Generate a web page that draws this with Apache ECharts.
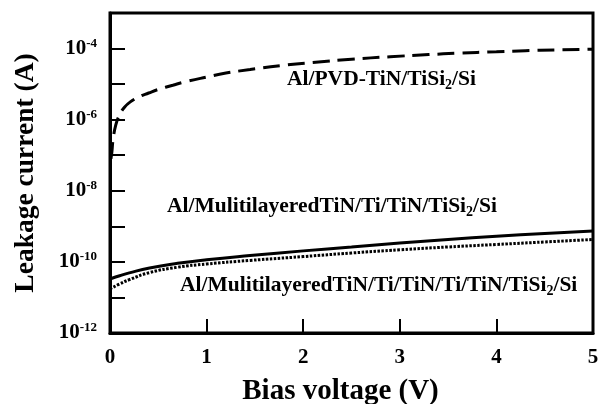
<!DOCTYPE html>
<html>
<head>
<meta charset="utf-8">
<script src="https://cdn.jsdelivr.net/npm/echarts@6/dist/echarts.min.js"></script>
<style>
    html, body { margin: 0; padding: 0; background: #fff; }
    #chartDiv { width: 600px; height: 404px; }
</style>
</head>
<body>
<div id="chartDiv"></div>
<script>
// 数据
var xTicks = [0, 1, 2, 3, 4, 5];

var pvdV = [0.01, 0.02, 0.03, 0.06, 0.1, 0.15, 0.21, 0.3, 0.4, 0.5, 0.65, 0.8, 1.0, 1.2, 1.45, 1.8, 2.1, 2.5, 2.9, 3.3, 3.6, 4.0, 4.3, 4.6, 5.0];
var pvdI = [7.9e-8, 1.26e-7, 2.5e-7, 7.1e-7, 1.38e-6, 2.24e-6, 3.16e-6, 4.37e-6, 5.62e-6, 7.08e-6, 9.33e-6, 1.2e-5, 1.58e-5, 2.04e-5, 2.57e-5, 3.39e-5, 4.07e-5, 5.01e-5, 5.89e-5, 6.76e-5, 7.41e-5, 8.13e-5, 8.71e-5, 9.12e-5, 9.55e-5];

var multiV = [0, 0.1, 0.2, 0.41, 0.7, 1.0, 1.45, 2.0, 2.5, 3.0, 3.5, 4.0, 4.5, 5.0];
var multiI = [3.31e-11, 4.07e-11, 4.9e-11, 6.76e-11, 9.12e-11, 1.15e-10, 1.51e-10, 2.04e-10, 2.63e-10, 3.39e-10, 4.27e-10, 5.25e-10, 6.31e-10, 7.41e-10];

var multi2V = [0, 0.1, 0.2, 0.41, 0.7, 1.0, 1.45, 2.0, 2.5, 3.0, 3.5, 4.0, 4.5, 5.0];
var multi2I = [1.74e-11, 2.4e-11, 3.16e-11, 5.01e-11, 7.08e-11, 8.71e-11, 1.1e-10, 1.41e-10, 1.78e-10, 2.19e-10, 2.63e-10, 3.09e-10, 3.63e-10, 4.27e-10];

var serif = 'Liberation Serif';

function pairs(xs, ys) {
    var out = [];
    for (var i = 0; i < xs.length; i++) {
        out.push([xs[i], ys[i]]);
    }
    return out;
}

var chart = echarts.init(document.getElementById('chartDiv'));

// 标注文字（带下标2）
var subRich = {
    n: {fontFamily: serif, fontWeight: 'bold', fontSize: 21.5, color: '#000'},
    sub: {fontFamily: serif, fontWeight: 'bold', fontSize: 14, color: '#000', padding: [12, 0, 0, 0]}
};

var option = {
    animation: false,
    backgroundColor: '#fff',
    grid: {
        left: 110, right: 7, top: 13, bottom: 71,
        outerBoundsMode: 'none',
        containLabel: false,
        show: true, borderColor: '#000', borderWidth: 3
    },
    xAxis: {
        type: 'value',
        min: xTicks[0], max: xTicks[xTicks.length - 1], interval: 1,
        name: 'Bias voltage (V)',
        nameLocation: 'middle',
        nameGap: 44,
        nameTextStyle: {fontFamily: serif, fontWeight: 'bold', fontSize: 29, color: '#000', padding: [0, 22, 0, 0]},
        axisLine: {show: true, lineStyle: {color: '#000', width: 3}},
        axisTick: {inside: true, length: 14, lineStyle: {color: '#000', width: 2}},
        axisLabel: {fontFamily: serif, fontWeight: 'bold', fontSize: 21, color: '#000', margin: 14},
        splitLine: {show: false}
    },
    yAxis: {
        type: 'log',
        logBase: 10,
        min: 1e-12, max: 1e-3,
        interval: 1,
        name: 'Leakage current (A)',
        nameLocation: 'middle',
        nameGap: 70,
        nameTextStyle: {fontFamily: serif, fontWeight: 'bold', fontSize: 27.5, color: '#000'},
        axisLine: {show: true, lineStyle: {color: '#000', width: 3}},
        axisTick: {inside: true, length: 15, lineStyle: {color: '#000', width: 2}},
        axisLabel: {
            margin: 13,
            formatter: function (v) {
                var e = Math.round(Math.log10(v));
                if (e % 2 !== 0) return '';
                return '{b|10}{s|' + e + '}';
            },
            rich: {
                b: {fontFamily: serif, fontWeight: 'bold', fontSize: 21, color: '#000', lineHeight: 22},
                s: {fontFamily: serif, fontWeight: 'bold', fontSize: 13, color: '#000', padding: [0, 0, 10, 0]}
            }
        },
        splitLine: {show: false}
    },
    series: [
        {
            name: 'Al/PVD-TiN/TiSi2/Si',
            type: 'line',
            data: pairs(pvdV, pvdI),
            smooth: true,
            showSymbol: false,
            lineStyle: {color: '#000', width: 3, type: [17, 8]}
        },
        {
            name: 'Al/MulitilayeredTiN/Ti/TiN/TiSi2/Si',
            type: 'line',
            data: pairs(multiV, multiI),
            smooth: true,
            showSymbol: false,
            lineStyle: {color: '#000', width: 3}
        },
        {
            name: 'Al/MulitilayeredTiN/Ti/TiN/Ti/TiN/TiSi2/Si',
            type: 'line',
            data: pairs(multi2V, multi2I),
            smooth: true,
            showSymbol: false,
            lineStyle: {color: '#000', width: 3, type: [2.5, 1.5]}
        }
    ],
    graphic: [
        {
            type: 'text', left: 287, top: 68,
            style: {text: '{n|Al/PVD-TiN/TiSi}{sub|2}{n|/Si}', rich: subRich}
        },
        {
            type: 'text', left: 167, top: 195,
            style: {text: '{n|Al/MulitilayeredTiN/Ti/TiN/TiSi}{sub|2}{n|/Si}', rich: subRich}
        },
        {
            type: 'text', left: 180, top: 274,
            style: {text: '{n|Al/MulitilayeredTiN/Ti/TiN/Ti/TiN/TiSi}{sub|2}{n|/Si}', rich: subRich}
        }
    ]
};

chart.setOption(option);
</script>
</body>
</html>
